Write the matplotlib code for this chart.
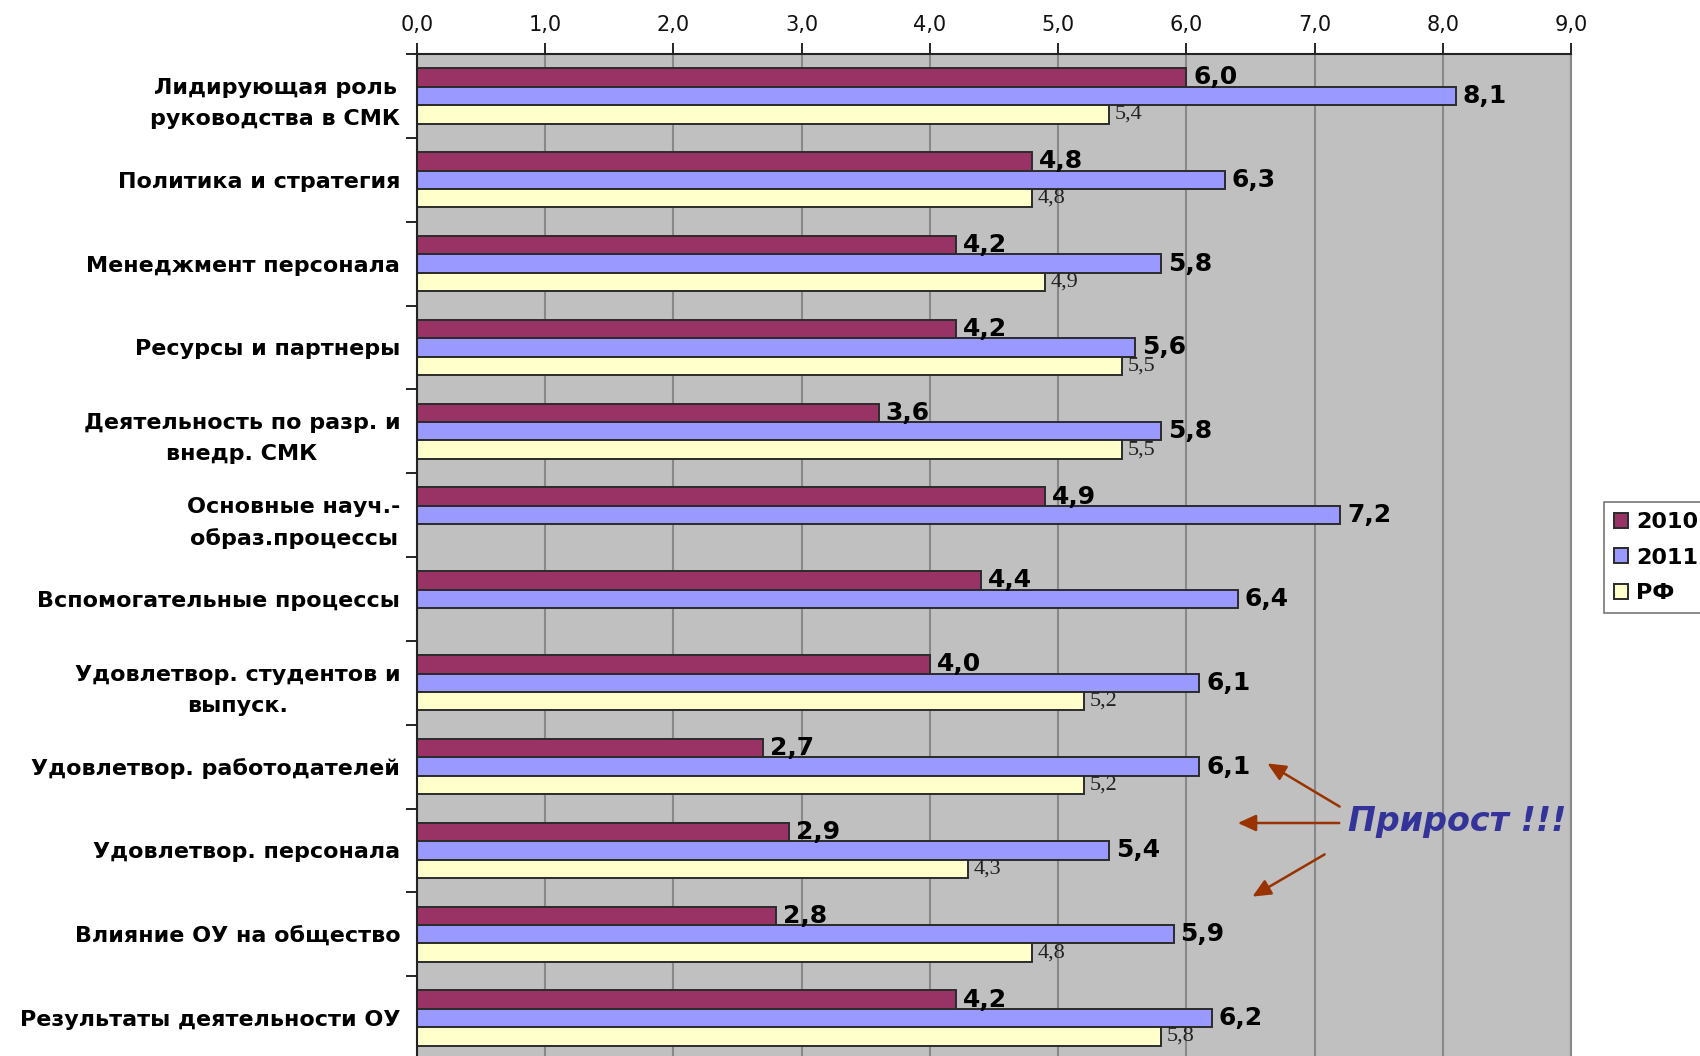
import numpy as np
import matplotlib.pyplot as plt
from matplotlib.ticker import FuncFormatter

categories = [
    "Лидирующая роль\nруководства в СМК",
    "Политика и стратегия",
    "Менеджмент персонала",
    "Ресурсы и партнеры",
    "Деятельность по разр. и\nвнедр. СМК",
    "Основные науч.-\nобраз.процессы",
    "Вспомогательные процессы",
    "Удовлетвор. студентов и\nвыпуск.",
    "Удовлетвор. работодателей",
    "Удовлетвор. персонала",
    "Влияние ОУ на общество",
    "Результаты деятельности ОУ",
]
v2010 = [6.0, 4.8, 4.2, 4.2, 3.6, 4.9, 4.4, 4.0, 2.7, 2.9, 2.8, 4.2]
v2011 = [8.1, 6.3, 5.8, 5.6, 5.8, 7.2, 6.4, 6.1, 6.1, 5.4, 5.9, 6.2]
vrf = [5.4, 4.8, 4.9, 5.5, 5.5, None, None, 5.2, 5.2, 4.3, 4.8, 5.8]
series_names = ["2010", "2011", "РФ"]
xticks = np.arange(0, 10)

W, H = 1700, 1056
fig = plt.figure(figsize=(W / 100, H / 100), dpi=100)
ax = fig.add_axes([417 / W, (H - 1060) / H, (1571 - 417) / W, 1006 / H])

def fmt(v):
    return f"{v:.1f}".replace(".", ",")

y = np.arange(len(categories))
h = 0.22
edge = "#2b2b2b"

b1 = ax.barh(y - h, v2010, height=h, color="#993366", edgecolor=edge, lw=1.4,
             label=series_names[0])
b2 = ax.barh(y, v2011, height=h, color="#9999FF", edgecolor=edge, lw=1.4,
             label=series_names[1])
idx = [i for i, v in enumerate(vrf) if v is not None]
rf_vals = [vrf[i] for i in idx]
b3 = ax.barh(y[idx] + h, rf_vals, height=h, color="#FFFFCC", edgecolor=edge,
             lw=1.4, label=series_names[2])

ax.bar_label(b1, labels=[fmt(v) for v in v2010], padding=5, fontsize=18,
             fontweight="bold", color="black")
ax.bar_label(b2, labels=[fmt(v) for v in v2011], padding=5, fontsize=18,
             fontweight="bold", color="black")
ax.bar_label(b3, labels=[fmt(v) for v in rf_vals], padding=4, fontsize=16,
             family="Liberation Serif", color="#222222")

ax.set_xlim(0, 9)
ax.set_ylim(11.5, -0.5)
ax.set_facecolor("#C0C0C0")
ax.set_axisbelow(True)
ax.grid(axis="x", color="#888888", lw=1.5)

ax.xaxis.tick_top()
ax.set_xticks(xticks)
ax.xaxis.set_major_formatter(FuncFormatter(lambda v, p: fmt(v)))
ax.tick_params(axis="x", labelsize=15, length=8, width=1.2, pad=6,
               labelcolor="#111111")

ax.set_yticks(y)
ax.set_yticklabels(categories, fontsize=16, fontweight="bold",
                   multialignment="center", linespacing=1.7)
ax.set_yticks(np.arange(len(categories) + 1) - 0.5, minor=True)
ax.tick_params(axis="y", which="major", length=0, pad=12)
ax.tick_params(axis="y", which="minor", length=8, width=1.2)

for s in ["left", "top"]:
    ax.spines[s].set_color("#222222")
    ax.spines[s].set_linewidth(1.5)
ax.spines["right"].set_color("#888888")
ax.spines["right"].set_linewidth(1.5)
ax.spines["bottom"].set_visible(False)

leg = fig.legend(handles=[b1, b2, b3], loc="upper left",
                 bbox_to_anchor=(1604 / W, 1 - 502 / H), frameon=True,
                 fancybox=False, edgecolor="#555555",
                 prop={"weight": "bold", "size": 16},
                 handlelength=0.65, handleheight=0.65, handletextpad=0.35,
                 labelspacing=0.7, borderpad=0.45, borderaxespad=0)
leg.get_frame().set_linewidth(1.2)

# annotation with arrows
def fpt(px, py):
    return (px / W, 1 - py / H)

fig.text(*fpt(1348, 821), "Прирост !!!", fontsize=24, fontweight="bold",
         style="italic", color="#333399", va="center", ha="left")
arrows = [((1342, 808), (1265, 762)),
          ((1342, 823), (1235, 823)),
          ((1327, 853), (1250, 898))]
for start, end in arrows:
    fig.add_artist(plt.matplotlib.patches.FancyArrowPatch(
        fpt(*start), fpt(*end), transform=fig.transFigure,
        arrowstyle="-|>,head_length=11,head_width=5", color="#993300",
        lw=1.8, mutation_scale=1))

fig.savefig("out.png", dpi=100)
